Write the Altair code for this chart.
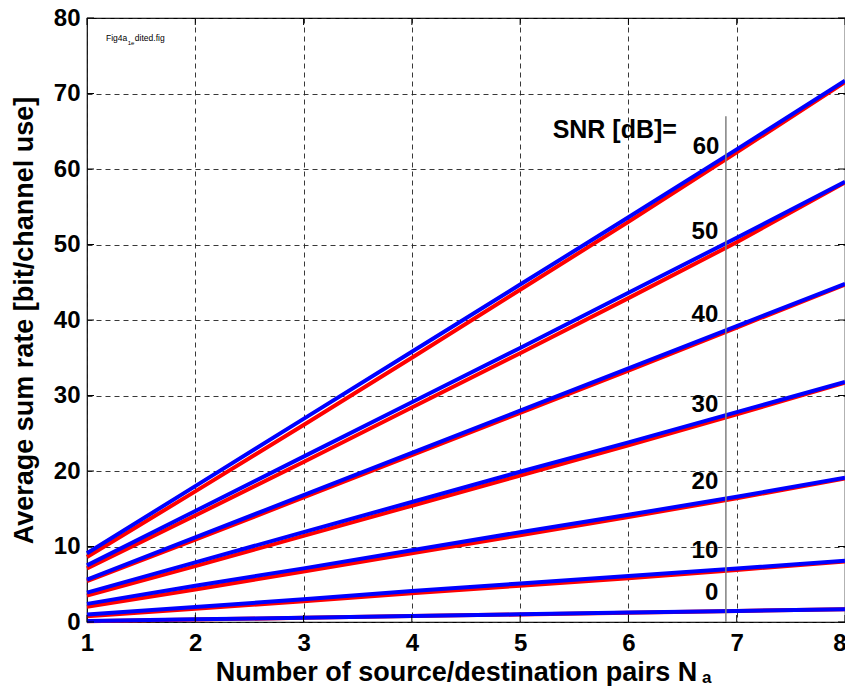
import altair as alt
import pandas as pd

N = [1, 2, 3, 4, 5, 6, 7, 8]
snr = [60, 50, 40, 30, 20, 10, 0]
y_ticks = [0, 10, 20, 30, 40, 50, 60, 70, 80]

blue = {
    60: [9.1, 18.0, 26.9, 35.8, 44.7, 53.6, 62.6, 71.7],
    50: [7.5, 14.7, 21.9, 29.1, 36.3, 43.6, 50.9, 58.3],
    40: [5.6, 11.2, 16.8, 22.4, 28.0, 33.6, 39.2, 44.8],
    30: [3.9, 7.9, 11.9, 15.9, 19.9, 23.8, 27.8, 31.8],
    20: [2.4, 4.8, 7.1, 9.5, 11.9, 14.2, 16.6, 19.1],
    10: [1.0, 2.0, 3.0, 4.1, 5.1, 6.1, 7.1, 8.1],
    0: [0.13, 0.35, 0.57, 0.8, 1.02, 1.25, 1.47, 1.7],
}
red = {
    60: [8.6, 17.3, 26.1, 35.0, 44.0, 53.0, 62.2, 71.5],
    50: [7.1, 14.1, 21.2, 28.4, 35.6, 42.9, 50.3, 58.2],
    40: [5.4, 10.9, 16.5, 22.1, 27.7, 33.3, 39.0, 44.7],
    30: [3.5, 7.4, 11.4, 15.4, 19.4, 23.4, 27.5, 31.7],
    20: [2.0, 4.3, 6.7, 9.1, 11.5, 13.9, 16.4, 19.0],
    10: [0.75, 1.75, 2.75, 3.8, 4.8, 5.8, 6.9, 8.0],
    0: [0.1, 0.32, 0.55, 0.78, 1.0, 1.23, 1.46, 1.69],
}

label_text = ["60", "50", "40", "30", "20", "10", "0"]
label_y = [62.9, 51.6, 40.6, 28.7, 18.5, 9.4, 3.8]
label_x = [6.84, 6.83, 6.83, 6.83, 6.83, 6.83, 6.83]

marker_x = 6.90
marker_top = 67

rows_b = [{"N": n, "rate": v, "snr": s} for s in snr for n, v in zip(N, blue[s])]
rows_r = [{"N": n, "rate": v, "snr": s} for s in snr for n, v in zip(N, red[s])]
df_b = pd.DataFrame(rows_b)
df_r = pd.DataFrame(rows_r)
df_lab = pd.DataFrame({"x": label_x, "y": label_y, "t": label_text})
df_yt = pd.DataFrame({"v": y_ticks})
df_xt = pd.DataFrame({"v": N})

FONT = "Liberation Sans"
W, H = 758, 604

xs = alt.Scale(domain=[1, 8], nice=False)
ys = alt.Scale(domain=[0, 80], nice=False)

xax = alt.Axis(values=N, format="d", title="Number of source/destination pairs N",
               titleX=369, titleAlign="center", titlePadding=4,
               labelPadding=9, tickSize=0, grid=True,
               labelAlign=alt.ExprRef(expr="datum.value == 8 ? 'right' : 'center'"),
               labelOffset=alt.ExprRef(expr="datum.value == 8 ? 1 : 0"))
yax = alt.Axis(values=y_ticks, title="Average sum rate [bit/channel use]",
               titlePadding=15, labelPadding=7, tickSize=0, grid=True)

red_l = alt.Chart(df_r).mark_line(color="#ff0000", strokeWidth=4).encode(
    x=alt.X("N:Q", scale=xs, axis=xax),
    y=alt.Y("rate:Q", scale=ys, axis=yax),
    detail="snr:N",
)
blue_l = alt.Chart(df_b).mark_line(color="#0000ff", strokeWidth=4).encode(
    x=alt.X("N:Q", scale=xs),
    y=alt.Y("rate:Q", scale=ys),
    detail="snr:N",
)

# inward MATLAB-style ticks on all four sides
tick_l = alt.Chart(df_yt).mark_rule(color="black", strokeWidth=1).encode(
    y=alt.Y("v:Q", scale=ys), x=alt.value(0), x2=alt.value(7))
tick_r = alt.Chart(df_yt).mark_rule(color="black", strokeWidth=1).encode(
    y=alt.Y("v:Q", scale=ys), x=alt.value(W - 7), x2=alt.value(W))
tick_b = alt.Chart(df_xt).mark_rule(color="black", strokeWidth=1).encode(
    x=alt.X("v:Q", scale=xs), y=alt.value(H - 7), y2=alt.value(H))
tick_t = alt.Chart(df_xt).mark_rule(color="black", strokeWidth=1).encode(
    x=alt.X("v:Q", scale=xs), y=alt.value(0), y2=alt.value(7))

vline = alt.Chart(pd.DataFrame({"x": [marker_x], "y": [0], "y2": [marker_top]})).mark_rule(
    color="#808080", strokeWidth=1.5
).encode(x="x:Q", y="y:Q", y2="y2:Q")

labels = alt.Chart(df_lab).mark_text(
    font=FONT, fontWeight="bold", fontSize=24, align="right", baseline="middle", color="black"
).encode(x="x:Q", y="y:Q", text="t:N")

snr_title = alt.Chart(pd.DataFrame({"x": [5.30], "y": [65.2], "t": ["SNR [dB]="]})).mark_text(
    font=FONT, fontWeight="bold", fontSize=25, align="left", baseline="middle", color="black"
).encode(x="x:Q", y="y:Q", text="t:N")

figname = alt.Chart(pd.DataFrame({"x": [1.175], "y": [77.35], "t": ["Fig4a"]})).mark_text(
    font=FONT, fontSize=8.5, align="left", baseline="middle", color="black"
).encode(x="x:Q", y="y:Q", text="t:N")
figsub = alt.Chart(pd.DataFrame({"x": [1.376], "y": [76.75], "t": ["1e"]})).mark_text(
    font=FONT, fontSize=6, align="left", baseline="middle", color="black"
).encode(x="x:Q", y="y:Q", text="t:N")
figrest = alt.Chart(pd.DataFrame({"x": [1.442], "y": [77.35], "t": ["dited.fig"]})).mark_text(
    font=FONT, fontSize=8.5, align="left", baseline="middle", color="black"
).encode(x="x:Q", y="y:Q", text="t:N")

sub_a = alt.Chart(pd.DataFrame({"t": ["a"]})).mark_text(
    font=FONT, fontWeight="bold", fontSize=17, align="left", baseline="alphabetic", color="black"
).encode(x=alt.value(615), y=alt.value(665), text="t:N")

chart = alt.layer(
    red_l, blue_l, tick_l, tick_r, tick_b, tick_t, vline, labels, snr_title,
    figname, figsub, figrest, sub_a
).properties(
    width=W, height=H,
    autosize=alt.AutoSizeParams(type="none"),
    padding={"left": 79, "top": 10, "right": 0, "bottom": 64},
).configure_view(
    stroke="black", strokeWidth=1.2
).configure_axis(
    domain=False,
    gridColor="#222222", gridDash=[5, 4], gridWidth=1, gridOpacity=0.9,
    labelFont=FONT, labelFontWeight="bold", labelFontSize=24, labelColor="black",
    titleFont=FONT, titleFontWeight="bold", titleFontSize=27, titleColor="black",
)

chart.save("out.html", embed_options={"renderer": "svg", "actions": False})
